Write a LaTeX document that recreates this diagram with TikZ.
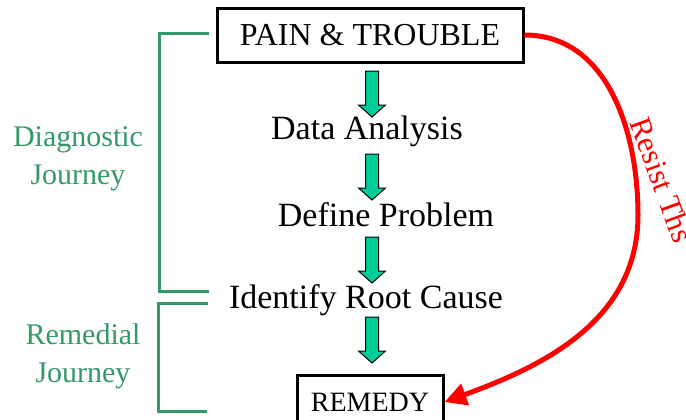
\documentclass[tikz,border=0pt]{standalone}
\usepackage{fontspec}
\setmainfont{Liberation Serif}
\usetikzlibrary{arrows.meta}
\definecolor{journeygreen}{RGB}{51,153,102}
\definecolor{stepgreen}{RGB}{0,204,153}

\begin{document}
\begin{tikzpicture}[x=0.5pt, y=0.5pt,
        box/.style={draw, line width=1.5pt, inner sep=0pt},
        steptext/.style={font=\fontsize{17}{20}\selectfont},
        blockarrow/.style={draw=black, fill=stepgreen, line width=0.5pt, line join=miter},
        journey/.style={text=journeygreen, align=center, font=\fontsize{15}{19}\selectfont},
        bracket/.style={draw=journeygreen, line width=1.5pt},
        resist/.style={red, line width=2.5pt, -{Triangle[length=11pt,width=11pt]}}]
    \useasboundingbox (0,0) rectangle (686,419);

    %! --- Steps ---
    \node[box, minimum width=153pt, minimum height=27pt, font=\fontsize{16}{19}\selectfont] (pain) at (370,384) {PAIN \& TROUBLE};
    \node[steptext] (data) at (367,288) {Data Analysis};
    \node[steptext] (define) at (386,204) {Define Problem};
    \node[steptext] (root) at (366,119) {Identify Root Cause};
    \node[box, minimum width=73pt, minimum height=27pt, font=\fontsize{14}{17}\selectfont] (remedy) at (370,17) {REMEDY};

    % Block arrows between the steps
    \foreach \y in {325,242,159,79} {
        \draw[blockarrow, shift={(372,\y)}] (-6.5,23) -- (6.5,23) -- (6.5,-11) -- (13.5,-11)
            -- (0,-23) -- (-13.5,-11) -- (-6.5,-11) -- cycle;
    }

    %! --- Journeys ---
    % Diagnostic bracket
    \draw[bracket] (209,386) -- (159,386) -- (159,128) -- (209,128);
    \node[journey] (diag) at (78,260) {Diagnostic\\Journey};
    % Remedial bracket
    \draw[bracket] (208,116) -- (158,116) -- (158,8) -- (207,8);
    \node[journey] (remed) at (83,63) {Remedial\\Journey};

    %! --- Shortcut ---
    \coordinate (bend) at (638,204);
    \draw[resist] (pain.east) to[out=0,in=90] (bend) to[out=-90,in=20] (remedy.east);
    \node[text=red, rotate=-70, font=\fontsize{15.5}{18}\selectfont] (resistlbl) at (662,239) {Resist Ths};
\end{tikzpicture}
\end{document}
